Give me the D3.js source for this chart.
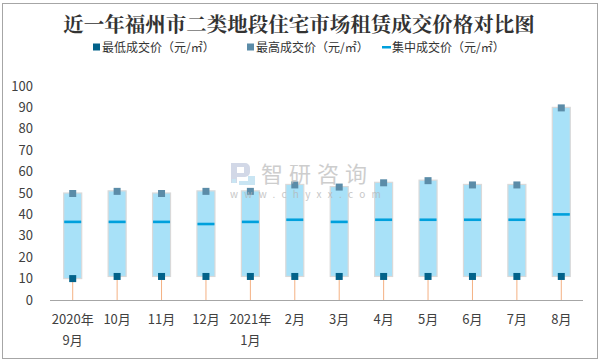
<!DOCTYPE html>
<html>
<head>
<meta charset="utf-8">
<script src="https://cdn.jsdelivr.net/npm/d3@7"></script>
<style>
  body { margin: 0; background: #fff; }
  svg { display: block; font-family: "Noto Sans CJK SC", "Noto Sans", sans-serif; }
</style>
</head>
<body>
<div id="chart"></div>
<script>
// data
const categories = ["2020年\n9月", "10月", "11月", "12月", "2021年\n1月", "2月", "3月", "4月", "5月", "6月", "7月", "8月"];
const lowPrice = [10, 11, 11, 11, 11, 11, 11, 11, 11, 11, 11, 11];
const highPrice = [50, 51, 50, 51, 51, 54, 53, 55, 56, 54, 54, 90];
const midPrice = [36.5, 36.5, 36.5, 35.5, 36.5, 37.5, 36.5, 37.5, 37.5, 37.5, 37.5, 40];
const yTicks = [0, 10, 20, 30, 40, 50, 60, 70, 80, 90, 100];
const legendNames = ["最低成交价（元/㎡）", "最高成交价（元/㎡）", "集中成交价（元/㎡）"];

const width = 601, height = 362;
const colors = { low: "#02628A", high: "#5B8CA8", mid: "#00A0DC", bar: "#A8E1F8", drop: "#F4B183" };

const rows = categories.map((c, i) => ({ cat: c, low: lowPrice[i], high: highPrice[i], mid: midPrice[i] }));

const svg = d3.select("#chart").append("svg")
    .attr("width", width)
    .attr("height", height);

// outer frame
svg.append("rect")
    .attr("x", 2.5).attr("y", 3.5)
    .attr("width", 595).attr("height", 355)
    .attr("fill", "#fff")
    .attr("stroke", "#A6A6A6");

const x = d3.scaleBand()
    .domain(categories)
    .range([50.5, 583.5]);

const y = d3.scaleLinear()
    .domain([0, 100])
    .range([300, 86]);

// title
svg.append("text")
    .attr("x", 299).attr("y", 32)
    .attr("text-anchor", "middle")
    .attr("font-family", "'Noto Serif CJK SC', 'Noto Sans CJK SC', serif")
    .attr("font-size", 20.5)
    .attr("font-weight", "bold")
    .attr("fill", "#333")
    .text("近一年福州市二类地段住宅市场租赁成交价格对比图");

// legend
const legend = svg.append("g").attr("font-size", 12).attr("fill", "#333");
const legendX = [96, 250, 386];
legendNames.forEach((name, i) => {
    const g = legend.append("g").attr("transform", `translate(${legendX[i]},47)`);
    if (i < 2) {
        g.append("rect").attr("x", -3).attr("y", -3.5).attr("width", 7).attr("height", 7)
            .attr("fill", i === 0 ? colors.low : colors.high);
    } else {
        g.append("rect").attr("x", -4).attr("y", -1).attr("width", 9).attr("height", 2.5)
            .attr("fill", colors.mid);
    }
    g.append("text").attr("x", 6).attr("y", 4.5).attr("fill", "#333").text(name);
});

const plot = svg.append("g");

// drop lines from low price to the axis
plot.selectAll(".drop")
    .data(rows)
    .join("line")
    .attr("class", "drop")
    .attr("x1", d => x(d.cat) + x.bandwidth() / 2)
    .attr("x2", d => x(d.cat) + x.bandwidth() / 2)
    .attr("y1", d => y(d.low))
    .attr("y2", y(0))
    .attr("stroke", colors.drop)
    .attr("stroke-width", 1);

// floating bars low -> high
const barW = 18;
plot.selectAll(".bar")
    .data(rows)
    .join("rect")
    .attr("class", "bar")
    .attr("x", d => x(d.cat) + x.bandwidth() / 2 - barW / 2)
    .attr("y", d => y(d.high))
    .attr("width", barW)
    .attr("height", d => y(d.low) - y(d.high))
    .attr("fill", colors.bar)
    .attr("stroke", "#D9D9D9")
    .attr("stroke-width", 1.2);

// median dash
plot.selectAll(".mid")
    .data(rows)
    .join("rect")
    .attr("class", "mid")
    .attr("x", d => x(d.cat) + x.bandwidth() / 2 - 8.5)
    .attr("y", d => y(d.mid) - 1.3)
    .attr("width", 17)
    .attr("height", 2.6)
    .attr("fill", colors.mid);

// high markers
plot.selectAll(".hi")
    .data(rows)
    .join("rect")
    .attr("class", "hi")
    .attr("x", d => x(d.cat) + x.bandwidth() / 2 - 3.5)
    .attr("y", d => y(d.high) - 3)
    .attr("width", 7)
    .attr("height", 7)
    .attr("fill", colors.high);

// low markers
plot.selectAll(".lo")
    .data(rows)
    .join("rect")
    .attr("class", "lo")
    .attr("x", d => x(d.cat) + x.bandwidth() / 2 - 3.5)
    .attr("y", d => y(d.low) - 3.5)
    .attr("width", 7)
    .attr("height", 7)
    .attr("fill", colors.low);

// y axis (labels only)
const yAxis = svg.append("g")
    .attr("transform", "translate(33,0)")
    .call(d3.axisLeft(y).tickValues(yTicks).tickSize(0).tickPadding(0));
yAxis.select(".domain").remove();
yAxis.selectAll("text")
    .attr("font-size", 13)
    .attr("fill", "#404040")
    .attr("font-family", "'Noto Sans CJK SC', sans-serif");

// x axis
const xAxis = svg.append("g")
    .attr("transform", `translate(0,${y(0)})`)
    .call(d3.axisBottom(x).tickSize(0).tickPadding(0));
xAxis.select(".domain").attr("stroke", "#A6A6A6").attr("d", "M50,0.5H583");
xAxis.selectAll(".tick text")
    .attr("font-size", 13)
    .attr("fill", "#404040")
    .attr("font-family", "'Noto Sans CJK SC', sans-serif")
    .attr("dy", null)
    .each(function(d) {
        const t = d3.select(this);
        const parts = d.split("\n");
        t.text(null);
        parts.forEach((p, i) => {
            t.append("tspan").attr("x", 0).attr("y", 24 + i * 21).text(p);
        });
    });

// watermark, drawn over the plot
const wm = svg.append("g").attr("opacity", 0.75);
wm.append("path")
    .attr("d", "M231,163 h14 a5,5 0 0 1 5,5 v4 a5,5 0 0 1 -5,5 h-8 v6 h-6 Z M237,167 v6 h7 v-6 Z")
    .attr("fill", "#C3CCDF")
    .attr("fill-rule", "evenodd");
wm.append("path")
    .attr("d", "M248,176 h7 v9 h-16 v-4 h9 Z")
    .attr("fill", "#B8DDF0");
wm.append("rect").attr("x", 232).attr("y", 179).attr("width", 4).attr("height", 4).attr("fill", "#B8DDF0");
wm.append("text")
    .attr("x", 261).attr("y", 182)
    .attr("font-size", 22)
    .attr("fill", "#BDBDBD")
    .attr("letter-spacing", 6)
    .text("智研咨询");
wm.append("text")
    .attr("x", 230).attr("y", 198)
    .attr("font-size", 10)
    .attr("fill", "#B5B5B5")
    .attr("letter-spacing", 6.3)
    .text("www.chyxx.com");
</script>
</body>
</html>
